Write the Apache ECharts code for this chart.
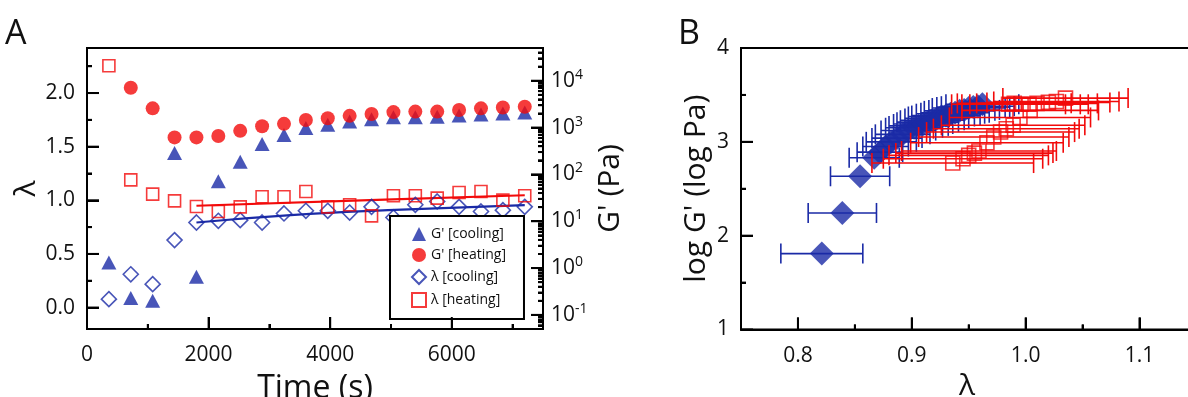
<!DOCTYPE html>
<html><head><meta charset="utf-8">
<script src="https://cdn.jsdelivr.net/npm/echarts@6/dist/echarts.min.js"></script>
<style>html,body{margin:0;padding:0;background:#fff}#c{width:1188px;height:397px}</style>
</head><body><div id="c"></div>
<script>
// ---------- Panel A data ----------
const timeS = [360,720,1080,1440,1800,2160,2520,2880,3240,3600,3960,4320,4680,5040,5400,5760,6120,6480,6840,7200];
const gCoolPa = [1.32,0.23,0.2,288,0.65,71,186,447,692,977,1150,1350,1510,1660,1660,1700,1820,1900,2000,2090];
const gHeatPa = [null,7080,2570,617,617,660,850,1070,1200,1450,1580,1780,1950,2140,2190,2190,2370,2570,2690,2790];
const lamCool = [0.078,0.31,0.218,0.629,0.793,0.809,0.815,0.793,0.877,0.902,0.902,0.886,0.939,0.84,0.958,0.989,0.939,0.896,0.908,0.939];
const lamHeat = [2.255,1.19,1.058,0.995,0.942,0.896,0.939,1.033,1.033,1.082,0.939,0.958,0.855,1.042,1.042,1.02,1.073,1.082,1.002,1.042];
const fitCoolT = [1800,3350,4950,7200];
const fitCoolLam = [0.793,0.862,0.908,0.955];
const fitHeatT = [1800,4900,7200];
const fitHeatLam = [0.949,1.006,1.047];
const xTicksA = [0,2000,4000,6000];
const xMinorA = [1000,3000,5000,7000];
const lamTicks = [0,0.5,1.0,1.5,2.0];
const lamMinor = [0.25,0.75,1.25,1.75,2.25];
const gTicks = [0.1,1,10,100,1000,10000];

// ---------- Panel B data ----------
const bLamCool = [0.821,0.839,0.8546,0.867,0.872,0.877,0.882,0.887,0.892,0.897,0.902,0.906,0.910,0.914,0.918,0.922,0.926,0.930,0.934,0.938,0.942,0.946,0.950,0.954,0.958,0.962];
const bLogGCool = [1.809,2.242,2.633,2.83,2.89,2.95,3.00,3.04,3.08,3.12,3.15,3.17,3.19,3.21,3.23,3.25,3.27,3.28,3.30,3.31,3.33,3.34,3.36,3.37,3.38,3.40];
const bErrCool = [0.036,0.030,0.026,0.022,0.02,0.02,0.022,0.022,0.024,0.024,0.025,0.026,0.026,0.027,0.028,0.028,0.029,0.03,0.03,0.03,0.031,0.031,0.032,0.032,0.032,0.032];
const bLamHeat = [0.985,0.990,0.996,1.003,1.010,1.020,1.027,1.035,1.004,0.995,0.989,0.983,0.978,0.972,0.966,0.959,0.955,0.950,0.945,0.936];
const bLogGHeat = [3.40,3.41,3.40,3.40,3.41,3.42,3.43,3.466,3.335,3.26,3.176,3.14,3.104,3.051,2.99,2.902,2.88,2.856,2.82,2.774];
const bErrHeat = [0.05,0.05,0.052,0.052,0.053,0.054,0.055,0.055,0.06,0.062,0.063,0.064,0.065,0.066,0.067,0.068,0.069,0.07,0.07,0.071];
const bXTicks = [0.8,0.9,1.0,1.1];
const bXMinor = [0.85,0.95,1.05];
const bYTicks = [1,2,3,4];
const bYMinor = [1.5,2.5,3.5];

const BLUE = '#1a2aa6', RED = '#f20a0a';
const FONT = 'Open Sans';
const A_X = [0, 7500], A_L = [-0.2, 2.42], A_G = [0.05, 50000];
const B_X = [0.75, 1.147], B_Y = [1, 4];
const gMinor = [];
for (let e = -2; e <= 4; e++) for (let m = 2; m <= 9; m++) { const v = m * Math.pow(10, e); if (v > A_G[0] && v < A_G[1]) gMinor.push(v); }

const zip = (a, b) => a.map((v, i) => [v, b[i]]);
const zip3 = (a, b, c) => a.map((v, i) => [v, b[i], c[i]]);
const lbl = {fontFamily: FONT, fontSize: 21, color: '#111'};
const nameStyle = {fontFamily: FONT, fontSize: 30, color: '#111'};
const noShow = {show: false};

function errBar(color, cap) {
  return function (params, api) {
    const x = api.value(0), y = api.value(1), e = api.value(2);
    const p0 = api.coord([x - e, y]), p1 = api.coord([x + e, y]);
    const st = {stroke: color, lineWidth: 1.6};
    return {type: 'group', children: [
      {type: 'line', shape: {x1: p0[0], y1: p0[1], x2: p1[0], y2: p1[1]}, style: st},
      {type: 'line', shape: {x1: p0[0], y1: p0[1] - cap, x2: p0[0], y2: p0[1] + cap}, style: st},
      {type: 'line', shape: {x1: p1[0], y1: p1[1] - cap, x2: p1[0], y2: p1[1] + cap}, style: st}
    ]};
  };
}

const axisLineStyle = {show: true, onZero: false, lineStyle: {color: '#000', width: 2}};
// tick-only axis shifted inside the frame by its tick length, ticks pointing back out to the frame
function tickAxis(base, len, vals) {
  return Object.assign({}, base, {offset: -len, name: '',
    axisLine: {show: false, onZero: false},
    axisTick: {show: true, inside: false, length: len, customValues: vals, lineStyle: {color: '#000', width: 2}},
    axisLabel: {show: false}, splitLine: {show: false}, minorTick: {show: false}});
}
const xA = {gridIndex: 0, type: 'value', min: A_X[0], max: A_X[1], position: 'bottom'};
const xB = {gridIndex: 1, type: 'value', min: B_X[0], max: B_X[1], position: 'bottom'};
const yAl = {gridIndex: 0, type: 'value', min: A_L[0], max: A_L[1], position: 'left'};
const yAr = {gridIndex: 0, type: 'log', logBase: 10, min: A_G[0], max: A_G[1], position: 'right'};
const yBl = {gridIndex: 1, type: 'value', min: B_Y[0], max: B_Y[1], position: 'left'};

const labelsText = [
  {type: 'text', id: 'tA', left: 5, top: 17, style: {text: 'A', fontFamily: FONT, fontSize: 34, fill: '#111'}},
  {type: 'text', id: 'tB', left: 678, top: 17, style: {text: 'B', fontFamily: FONT, fontSize: 34, fill: '#111'}}
];

const chart = echarts.init(document.getElementById('c'));
chart.setOption({
  animation: false,
  backgroundColor: '#fff',
  grid: [
    {left: 87, top: 48, width: 456, height: 281, show: true, borderColor: '#000', borderWidth: 2, backgroundColor: 'rgba(0,0,0,0)', containLabel: false, outerBoundsMode: 'none'},
    {left: 741, top: 48, width: 452, height: 281.5, show: true, borderColor: '#000', borderWidth: 2, backgroundColor: 'rgba(0,0,0,0)', containLabel: false, outerBoundsMode: 'none'}
  ],
  graphic: labelsText,
  legend: {
    data: ["G' [cooling]", "G' [heating]", 'λ [cooling]', 'λ [heating]'],
    orient: 'vertical', left: 390, top: 216,
    padding: [11, 18, 11, 21], itemGap: 7, itemWidth: 14, itemHeight: 14,
    borderColor: '#000', borderWidth: 2, backgroundColor: '#fff',
    textStyle: {fontFamily: FONT, fontSize: 14, color: '#111', lineHeight: 14},
    selectedMode: false, z: 30
  },
  xAxis: [
    Object.assign({}, xA, {name: 'Time (s)', nameLocation: 'middle', nameGap: 44, nameTextStyle: Object.assign({}, nameStyle, {fontSize: 32}),
     axisLine: axisLineStyle, axisTick: noShow, splitLine: noShow,
     axisLabel: Object.assign({customValues: xTicksA, margin: 16, formatter: v => String(v)}, lbl)}),
    Object.assign({}, xB, {name: 'λ', nameLocation: 'middle', nameGap: 37, nameTextStyle: nameStyle,
     axisLine: axisLineStyle, axisTick: noShow, splitLine: noShow,
     axisLabel: Object.assign({customValues: bXTicks, margin: 16, formatter: v => v.toFixed(1)}, lbl)}),
    tickAxis(xA, 12, xTicksA),
    tickAxis(xA, 5, xMinorA),
    tickAxis(xB, 12, bXTicks),
    tickAxis(xB, 5, bXMinor)
  ],
  yAxis: [
    Object.assign({}, yAl, {name: 'λ', nameLocation: 'middle', nameRotate: 90, nameGap: 46, nameTextStyle: nameStyle,
     axisLine: axisLineStyle, axisTick: noShow, splitLine: noShow,
     axisLabel: Object.assign({customValues: lamTicks, margin: 12, formatter: v => v.toFixed(1)}, lbl)}),
    Object.assign({}, yAr, {name: "G' (Pa)", nameLocation: 'middle', nameRotate: 90, nameGap: 52, nameTextStyle: nameStyle,
     axisLine: axisLineStyle, axisTick: noShow, splitLine: noShow, minorTick: noShow,
     axisLabel: Object.assign({customValues: gTicks, margin: 8,
       formatter: v => '10{sup|' + Math.round(Math.log10(v)) + '}',
       rich: {sup: {fontFamily: FONT, fontSize: 14, color: '#111', padding: [0, 0, 12, 0]}}}, lbl)}),
    Object.assign({}, yBl, {name: "log G' (log Pa)", nameLocation: 'middle', nameRotate: 90, nameGap: 30, nameTextStyle: nameStyle,
     axisLine: axisLineStyle, axisTick: noShow, splitLine: noShow,
     axisLabel: Object.assign({customValues: bYTicks, margin: 12}, lbl)}),
    tickAxis(yAl, 12, lamTicks),
    tickAxis(yAl, 5, lamMinor),
    tickAxis(yAr, 12, gTicks),
    tickAxis(yAr, 5, gMinor),
    tickAxis(yBl, 12, bYTicks),
    tickAxis(yBl, 5, bYMinor)
  ],
  series: [
    {type: 'line', xAxisIndex: 0, yAxisIndex: 0, data: zip(fitCoolT, fitCoolLam), smooth: true, symbol: 'none', lineStyle: {color: BLUE, width: 2.2}, z: 2},
    {type: 'line', xAxisIndex: 0, yAxisIndex: 0, data: zip(fitHeatT, fitHeatLam), symbol: 'none', lineStyle: {color: RED, width: 2.2}, z: 2},
    {name: 'λ [cooling]', type: 'scatter', xAxisIndex: 0, yAxisIndex: 0, data: zip(timeS, lamCool), symbol: 'diamond', symbolSize: 15,
     itemStyle: {color: 'rgba(255,255,255,0)', borderColor: BLUE, borderWidth: 1.6}, z: 3},
    {name: 'λ [heating]', type: 'scatter', xAxisIndex: 0, yAxisIndex: 0, data: zip(timeS, lamHeat), symbol: 'rect', symbolSize: 12,
     itemStyle: {color: 'rgba(255,255,255,0)', borderColor: RED, borderWidth: 1.6}, z: 4},
    {name: "G' [cooling]", type: 'scatter', xAxisIndex: 0, yAxisIndex: 1, data: zip(timeS, gCoolPa).filter(d => d[1] != null), symbol: 'triangle', symbolSize: [15, 14],
     itemStyle: {color: BLUE}, z: 5},
    {name: "G' [heating]", type: 'scatter', xAxisIndex: 0, yAxisIndex: 1, data: zip(timeS, gHeatPa).filter(d => d[1] != null), symbol: 'circle', symbolSize: 14,
     itemStyle: {color: RED}, z: 6},
    {type: 'custom', xAxisIndex: 1, yAxisIndex: 2, data: zip3(bLamCool, bLogGCool, bErrCool), renderItem: errBar(BLUE, 10), encode: {x: 0, y: 1}, z: 2},
    {type: 'scatter', xAxisIndex: 1, yAxisIndex: 2, data: zip(bLamCool, bLogGCool), symbol: 'diamond', symbolSize: 24, itemStyle: {color: BLUE}, z: 3},
    {type: 'custom', xAxisIndex: 1, yAxisIndex: 2, data: zip3(bLamHeat, bLogGHeat, bErrHeat), renderItem: errBar(RED, 10), encode: {x: 0, y: 1}, z: 4},
    {type: 'scatter', xAxisIndex: 1, yAxisIndex: 2, data: zip(bLamHeat, bLogGHeat), symbol: 'rect', symbolSize: 14,
     itemStyle: {color: 'rgba(255,255,255,0)', borderColor: RED, borderWidth: 1.6}, z: 5}
  ]
});

// Also place inward tick marks through the axes' own scales (convertToPixel)
const tickEls = [];
function addTicks(finder, pts, dx, dy) {
  pts.forEach(pt => {
    let p = null;
    try { p = chart.convertToPixel(finder, pt); } catch (e) { p = null; }
    if (!p || isNaN(p[0]) || isNaN(p[1])) return;
    tickEls.push({type: 'line', silent: true, z: 100,
      shape: {x1: p[0], y1: p[1], x2: p[0] + dx, y2: p[1] + dy}, style: {stroke: '#000', lineWidth: 2}});
  });
}
const fA = {xAxisIndex: 0, yAxisIndex: 0}, fAG = {xAxisIndex: 0, yAxisIndex: 1}, fB = {xAxisIndex: 1, yAxisIndex: 2};
addTicks(fA, xTicksA.map(v => [v, A_L[0]]), 0, -12);
addTicks(fA, xMinorA.map(v => [v, A_L[0]]), 0, -5);
addTicks(fA, lamTicks.map(v => [A_X[0], v]), 12, 0);
addTicks(fA, lamMinor.map(v => [A_X[0], v]), 5, 0);
addTicks(fAG, gTicks.map(v => [A_X[1], v]), -12, 0);
addTicks(fAG, gMinor.map(v => [A_X[1], v]), -5, 0);
addTicks(fB, bXTicks.map(v => [v, B_Y[0]]), 0, -12);
addTicks(fB, bXMinor.map(v => [v, B_Y[0]]), 0, -5);
addTicks(fB, bYTicks.map(v => [B_X[0], v]), 12, 0);
addTicks(fB, bYMinor.map(v => [B_X[0], v]), 5, 0);
if (tickEls.length) {
  chart.setOption({graphic: labelsText.concat([{type: 'group', id: 'ticks', z: 100, children: tickEls}])});
}
</script></body></html>
